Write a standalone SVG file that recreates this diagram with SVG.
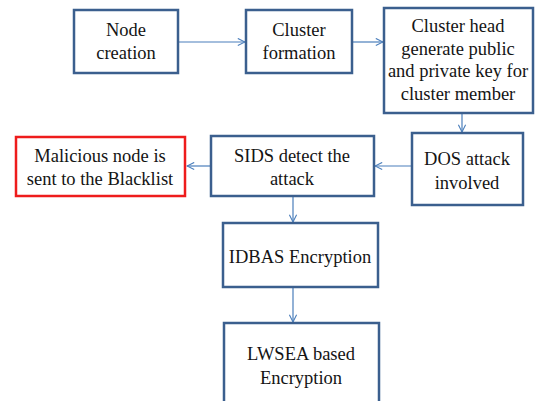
<svg xmlns="http://www.w3.org/2000/svg" width="535" height="401" viewBox="0 0 535 401">
  <defs>
    <marker id="arrow" viewBox="0 0 10 10" refX="9" refY="5" markerWidth="9" markerHeight="9" markerUnits="userSpaceOnUse" orient="auto">
      <path d="M1,1 L9,5 L1,9" fill="none" stroke="#4a7ebb" stroke-width="1.2"/>
    </marker>
  </defs>
  <style>
    .box { fill: #ffffff; stroke: #3b5f8e; stroke-width: 2.5; }
    .alert { fill: #ffffff; stroke: #ee1c1c; stroke-width: 2.5; }
    .label { font-family: 'Liberation Serif', 'Times New Roman', serif; font-size: 18.5px; fill: #141414; text-anchor: middle; }
    .link { fill: none; stroke: #4a7ebb; stroke-width: 1.2; marker-end: url(#arrow); }
  </style>
  <rect width="535" height="401" fill="#ffffff"/>

  <g id="connectors">
    <line class="link" x1="178" y1="42" x2="245" y2="42"/>
    <line class="link" x1="352" y1="42" x2="383" y2="42"/>
    <line class="link" x1="462" y1="113" x2="462" y2="132"/>
    <line class="link" x1="412" y1="166" x2="375" y2="166"/>
    <line class="link" x1="211" y1="166" x2="187" y2="166"/>
    <line class="link" x1="293" y1="196" x2="293" y2="222"/>
    <line class="link" x1="293" y1="287" x2="293" y2="322"/>
  </g>

  <g id="node-creation">
    <rect class="box" x="74" y="10" width="104" height="63"/>
    <text class="label" x="126" y="36">Node</text>
    <text class="label" x="126" y="59">creation</text>
  </g>

  <g id="cluster-formation">
    <rect class="box" x="246" y="10" width="106" height="63"/>
    <text class="label" x="299" y="36">Cluster</text>
    <text class="label" x="299" y="59">formation</text>
  </g>

  <g id="cluster-head">
    <rect class="box" x="384" y="8" width="149" height="105"/>
    <text class="label" x="458" y="32">Cluster head</text>
    <text class="label" x="458" y="55">generate public</text>
    <text class="label" x="458" y="77">and private key for</text>
    <text class="label" x="458" y="100">cluster member</text>
  </g>

  <g id="dos-attack">
    <rect class="box" x="412" y="133" width="111" height="72"/>
    <text class="label" x="467" y="165">DOS attack</text>
    <text class="label" x="467" y="189">involved</text>
  </g>

  <g id="sids-detect">
    <rect class="box" x="211" y="136" width="163" height="60"/>
    <text class="label" x="292" y="162">SIDS detect the</text>
    <text class="label" x="292" y="185">attack</text>
  </g>

  <g id="blacklist">
    <rect class="alert" x="16" y="137" width="169" height="59"/>
    <text class="label" x="100" y="162">Malicious  node is</text>
    <text class="label" x="100" y="185">sent to the Blacklist</text>
  </g>

  <g id="idbas-encryption">
    <rect class="box" x="223" y="223" width="155" height="64"/>
    <text class="label" x="300" y="263">IDBAS Encryption</text>
  </g>

  <g id="lwsea-encryption">
    <rect class="box" x="224" y="323" width="155" height="90"/>
    <text class="label" x="301" y="360">LWSEA based</text>
    <text class="label" x="301" y="384">Encryption</text>
  </g>
</svg>
